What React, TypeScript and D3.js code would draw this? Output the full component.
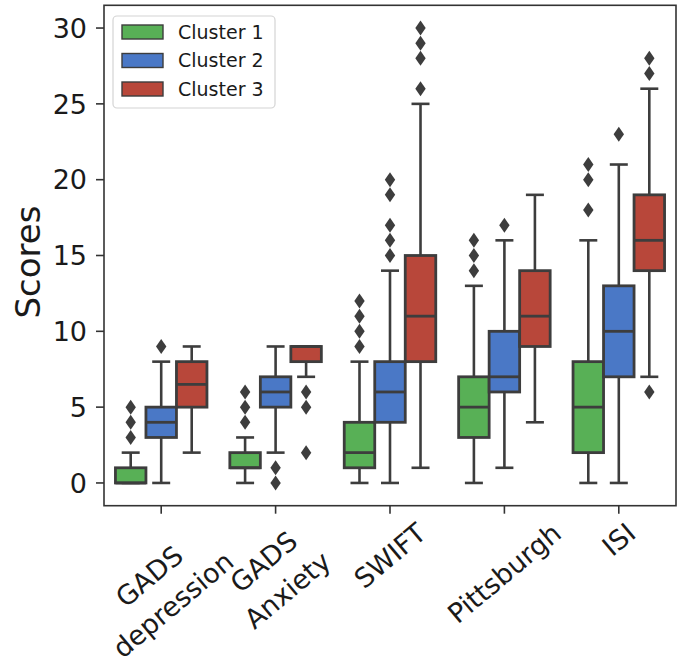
import React from "react";
import * as d3 from "d3";

const categories = ["GADS\ndepression", "GADS\nAnxiety", "SWIFT", "Pittsburgh", "ISI"];
const clusters = ["Cluster 1", "Cluster 2", "Cluster 3"];
const colors = ["#58b056", "#4a78c6", "#b8473a"];

// per cluster, per category
const q1 = [
  [0, 1, 1, 3, 2],
  [3, 5, 4, 6, 7],
  [5, 8, 8, 9, 14],
];
const median = [
  [0, 1, 2, 5, 5],
  [4, 6, 6, 7, 10],
  [6.5, 9, 11, 11, 16],
];
const q3 = [
  [1, 2, 4, 7, 8],
  [5, 7, 8, 10, 13],
  [8, 9, 15, 14, 19],
];
const whiskerLow = [
  [0, 0, 0, 0, 0],
  [0, 2, 0, 1, 0],
  [2, 7, 1, 4, 7],
];
const whiskerHigh = [
  [2, 3, 8, 13, 16],
  [8, 9, 14, 16, 21],
  [9, 9, 25, 19, 26],
];
const outliers = [
  [[3, 4, 5], [4, 5, 6], [9, 10, 11, 12], [14, 15, 16], [18, 20, 21]],
  [[9], [0, 1], [15, 16, 17, 19, 20], [17], [23]],
  [[], [2, 5, 6], [26, 28, 29, 30], [], [6, 27, 28]],
];
const yTicks = [0, 5, 10, 15, 20, 25, 30];

const W = 688;
const H = 669;
const left = 104;
const right = 676;
const top = 5.3;
const bottom = 505.7;
const FONT = "DejaVu Sans";
const LINE = "#3d3d3d";

function measure(text: string, size: number): number {
  const c = document.createElement("canvas");
  const ctx = c.getContext("2d")!;
  ctx.font = `${size}px "${FONT}"`;
  return ctx.measureText(text).width;
}

export default function App() {
  const x = d3.scaleBand<string>().domain(categories).range([left, right]).padding(0);
  const bw = x.bandwidth();
  const hue = d3.scaleBand<string>().domain(clusters).range([0.1 * bw, 0.9 * bw]).padding(0);
  const hw = hue.bandwidth();
  const y = d3.scaleLinear().domain([-1.5, 31.5]).range([bottom, top]);

  const tickFs = 27;
  const xFs = 27;
  const lh = 37;
  const ang = 40;
  const rad = (ang * Math.PI) / 180;

  const diamond = (cx: number, cy: number) => {
    const dh = 7.5, dw = 5.2;
    return `M${cx},${cy - dh}L${cx + dw},${cy}L${cx},${cy + dh}L${cx - dw},${cy}Z`;
  };

  return (
    <svg width={W} height={H} style={{ position: "absolute", left: 0, top: 0, background: "#fff" }} fontFamily={FONT}>
      <rect x={0} y={0} width={W} height={H} fill="#fff" />
      {/* boxes */}
      {clusters.map((cl, ci) =>
        categories.map((cat, k) => {
          const x0 = (x(cat) as number) + (hue(cl) as number);
          const cx = x0 + hw / 2;
          const capW = 18;
          return (
            <g key={cl + cat}>
              <line x1={cx} x2={cx} y1={y(q1[ci][k])} y2={y(whiskerLow[ci][k])} stroke={LINE} strokeWidth={2.6} />
              <line x1={cx} x2={cx} y1={y(q3[ci][k])} y2={y(whiskerHigh[ci][k])} stroke={LINE} strokeWidth={2.6} />
              <line x1={cx - capW / 2} x2={cx + capW / 2} y1={y(whiskerLow[ci][k])} y2={y(whiskerLow[ci][k])} stroke={LINE} strokeWidth={2.6} />
              <line x1={cx - capW / 2} x2={cx + capW / 2} y1={y(whiskerHigh[ci][k])} y2={y(whiskerHigh[ci][k])} stroke={LINE} strokeWidth={2.6} />
              <rect x={x0} width={hw} y={y(q3[ci][k])} height={y(q1[ci][k]) - y(q3[ci][k])} fill={colors[ci]} stroke={LINE} strokeWidth={2.8} />
              <line x1={x0} x2={x0 + hw} y1={y(median[ci][k])} y2={y(median[ci][k])} stroke={LINE} strokeWidth={2.8} />
              {outliers[ci][k].map((v, j) => (
                <path key={j} d={diamond(cx, y(v))} fill={LINE} />
              ))}
            </g>
          );
        })
      )}
      {/* frame */}
      <rect x={left} y={top} width={right - left} height={bottom - top} fill="none" stroke="#333" strokeWidth={1.6} />
      {/* y axis */}
      {yTicks.map((t) => (
        <g key={t}>
          <line x1={left - 8} x2={left} y1={y(t)} y2={y(t)} stroke="#333" strokeWidth={1.6} />
          <text x={left - 17} y={y(t)} dy="0.36em" textAnchor="end" fontSize={tickFs} fill="#1a1a1a">
            {t}
          </text>
        </g>
      ))}
      <text transform={`translate(40,262) rotate(-90)`} textAnchor="middle" fontSize={34} fill="#1a1a1a">
        Scores
      </text>
      {/* x axis */}
      {categories.map((cat) => {
        const tx = (x(cat) as number) + bw / 2;
        const lines = cat.split("\n");
        const Wt = Math.max(...lines.map((l) => measure(l, xFs)));
        const Ht = (lines.length - 1) * lh + 1.16 * xFs;
        const bbH = Wt * Math.sin(rad) + Ht * Math.cos(rad);
        const cy = 517 + bbH / 2;
        return (
          <g key={cat}>
            <line x1={tx} x2={tx} y1={bottom} y2={bottom + 8} stroke="#333" strokeWidth={1.6} />
            <g transform={`translate(${tx},${cy}) rotate(${-ang})`}>
              {lines.map((l, i) => (
                <text key={i} x={0} y={-Ht / 2 + 0.58 * xFs + i * lh + 0.35 * xFs} textAnchor="middle" fontSize={xFs} fill="#1a1a1a">
                  {l}
                </text>
              ))}
            </g>
          </g>
        );
      })}
      {/* legend */}
      <rect x={113} y={16} width={162} height={92} rx={4} fill="#fff" fillOpacity={0.85} stroke="#d4d4d4" strokeWidth={1.2} />
      {clusters.map((cl, i) => {
        const cy = 32 + i * 28.5;
        return (
          <g key={cl}>
            <rect x={122} y={cy - 7} width={41} height={14} fill={colors[i]} stroke={LINE} strokeWidth={1.4} />
            <text x={178} y={cy} dy="0.36em" fontSize={19} fill="#1a1a1a">
              {cl}
            </text>
          </g>
        );
      })}
    </svg>
  );
}
